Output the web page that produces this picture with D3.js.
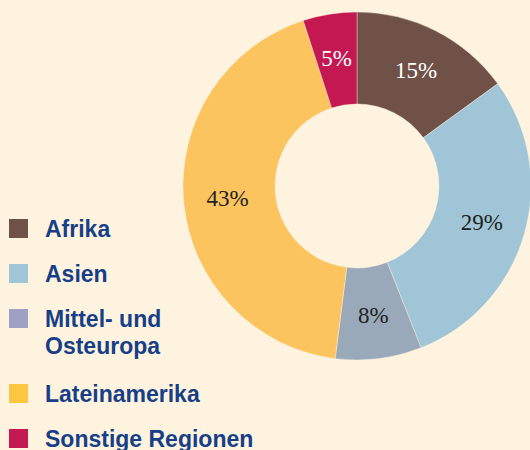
<!DOCTYPE html>
<html>
<head>
<meta charset="utf-8">
<script src="https://cdn.jsdelivr.net/npm/d3@7"></script>
<style>
  body { margin: 0; background: #fef3df; }
</style>
</head>
<body>
<div id="chart"></div>
<script>
const regions = ["Afrika", "Asien", "Mittel- und Osteuropa", "Lateinamerika", "Sonstige Regionen"];
const legendLines = [["Afrika"], ["Asien"], ["Mittel- und", "Osteuropa"], ["Lateinamerika"], ["Sonstige Regionen"]];
const shares = [15, 29, 8, 43, 5];
const sliceColors = ["#6f5148", "#9fc5d7", "#99a9ba", "#fcc45f", "#c41853"];
const swatchColors = ["#6f5148", "#9fc5d7", "#a09fc6", "#fcc640", "#c41853"];
const labelColors = ["#fff", "#222", "#222", "#222", "#fff"];

const width = 530, height = 450;
const cx = 357, cy = 186, outerR = 174, innerR = 82;

const svg = d3.select("#chart")
    .append("svg")
    .attr("width", width)
    .attr("height", height);

svg.append("rect")
    .attr("width", width)
    .attr("height", height)
    .attr("fill", "#fef3df");

const pie = d3.pie().sort(null).value(d => d);
const arc = d3.arc().innerRadius(innerR).outerRadius(outerR);
const labelArc = d3.arc().innerRadius(130).outerRadius(130);

const g = svg.append("g")
    .attr("transform", `translate(${cx}, ${cy})`);

const arcs = pie(shares);

g.selectAll("path")
    .data(arcs)
    .enter()
    .append("path")
    .attr("d", arc)
    .attr("fill", (d, i) => sliceColors[i])
    .attr("stroke", "#fef3df")
    .attr("stroke-width", 0.4);

g.selectAll("text.pct")
    .data(arcs)
    .enter()
    .append("text")
    .attr("class", "pct")
    .attr("transform", d => `translate(${labelArc.centroid(d)})`)
    .attr("text-anchor", "middle")
    .attr("dy", "0.35em")
    .style("font-family", "'Liberation Serif', 'DejaVu Serif', serif")
    .style("font-size", "23px")
    .attr("fill", (d, i) => labelColors[i])
    .text(d => d.data + "%");

// legend
const legendY = [219, 264, 309, 384, 429];
const legend = svg.append("g");

legendLines.forEach((lines, i) => {
    legend.append("rect")
        .attr("x", 9)
        .attr("y", legendY[i])
        .attr("width", 19)
        .attr("height", 19)
        .attr("fill", swatchColors[i]);

    const t = legend.append("text")
        .attr("x", 45)
        .attr("y", legendY[i] + 18)
        .style("font-family", "'Liberation Sans', Arial, sans-serif")
        .style("font-weight", "700")
        .style("font-size", "23px")
        .attr("fill", "#173f87");
    lines.forEach((line, j) => {
        t.append("tspan")
            .attr("x", 45)
            .attr("dy", j === 0 ? 0 : 27)
            .text(line);
    });
});
</script>
</body>
</html>
